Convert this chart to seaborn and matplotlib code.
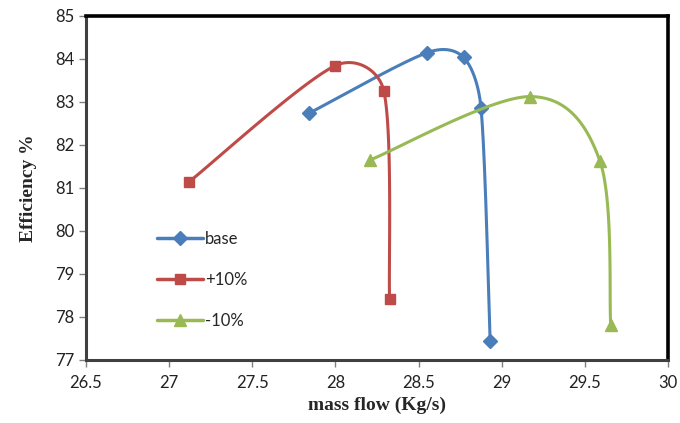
import numpy as np
import pandas as pd
import matplotlib
matplotlib.use("Agg")
import matplotlib.pyplot as plt
from matplotlib.lines import Line2D
import seaborn as sns

# values
base_flow = [27.84, 28.55, 28.77, 28.875, 28.93]
base_eff = [82.73, 84.14, 84.03, 82.86, 77.43]
plus_flow = [27.12, 28.0, 28.29, 28.325]
plus_eff = [81.14, 83.84, 83.26, 78.42]
minus_flow = [28.21, 29.17, 29.59, 29.655]
minus_eff = [81.65, 83.12, 81.62, 77.82]
labels = ["base", "+10%", "-10%"]

colors = ["#4A7EBB", "#BE4B48", "#98B954"]
markers = ["D", "s", "^"]
msizes = [7, 7, 8.5]

# pixels per data unit on screen, so the smoothing works like excel's
XS, YS = 167.0, 43.0


def smooth(x, y, n=40):
    # catmull-rom style bezier, control arms capped by segment length
    p = np.column_stack([np.asarray(x) * XS, np.asarray(y) * YS])
    k = len(p)
    tang = [(p[min(i + 1, k - 1)] - p[max(i - 1, 0)]) / 6 for i in range(k)]
    pts = [p[0]]
    for i in range(k - 1):
        cap = 0.4 * np.linalg.norm(p[i + 1] - p[i])
        a, b = tang[i], tang[i + 1]
        a = a * min(1, cap / np.linalg.norm(a))
        b = b * min(1, cap / np.linalg.norm(b))
        c1 = p[i] + a
        c2 = p[i + 1] - b
        t = np.linspace(0, 1, n)[1:, None]
        seg = ((1 - t) ** 3 * p[i] + 3 * (1 - t) ** 2 * t * c1
               + 3 * (1 - t) * t ** 2 * c2 + t ** 3 * p[i + 1])
        pts.extend(seg)
    pts = np.array(pts)
    return pts[:, 0] / XS, pts[:, 1] / YS


sns.set_style("white")
fig = plt.figure(figsize=(6.8, 4.23), dpi=100)
ax = fig.add_axes([0.1265, 0.149, 0.856, 0.814])

series = [(base_flow, base_eff), (plus_flow, plus_eff), (minus_flow, minus_eff)]
handles = []
for (fx, fy), lab, c, m, ms in zip(series, labels, colors, markers, msizes):
    sx, sy = smooth(fx, fy)
    curve = pd.DataFrame({"flow": sx, "eff": sy})
    sns.lineplot(data=curve, x="flow", y="eff", sort=False, color=c,
                 linewidth=2.2, ax=ax)
    pts = pd.DataFrame({"flow": fx, "eff": fy})
    ax.plot(pts["flow"], pts["eff"], linestyle="none", marker=m,
            markersize=ms, color=c, markeredgecolor=c)
    handles.append(Line2D([], [], color=c, lw=2.5, marker=m,
                          markersize=ms, label=lab))

ax.set_xlim(26.5, 30)
ax.set_ylim(77, 85)
ax.set_xticks(np.arange(26.5, 30.01, 0.5))
ax.set_xticklabels(["26.5", "27", "27.5", "28", "28.5", "29", "29.5", "30"])
ax.set_yticks(range(77, 86))

ax.tick_params(axis="both", which="major", direction="out", length=5,
               width=1, color="#808080", labelsize=12, labelcolor="#222222",
               bottom=True, left=True)
ax.tick_params(axis="x", pad=6)
for lbl in ax.get_xticklabels() + ax.get_yticklabels():
    lbl.set_family("Lato")
for side in ["top", "right"]:
    ax.spines[side].set_color("black")
    ax.spines[side].set_linewidth(2.6)
for side in ["left", "bottom"]:
    ax.spines[side].set_color("#404040")
    ax.spines[side].set_linewidth(2.2)

ax.set_xlabel("mass flow (Kg/s)", family="Liberation Serif", fontweight="bold",
              fontsize=14, labelpad=4)
ax.set_ylabel("Efficiency %", family="Liberation Serif", fontweight="bold",
              fontsize=14, labelpad=13)

ax.legend(handles=handles, loc="upper left", bbox_to_anchor=(0.11, 0.395),
          frameon=False, prop={"family": "Lato", "size": 12},
          labelspacing=1.5, handlelength=2.8, handletextpad=0.1,
          borderaxespad=0)

fig.savefig("out.png", dpi=100)
